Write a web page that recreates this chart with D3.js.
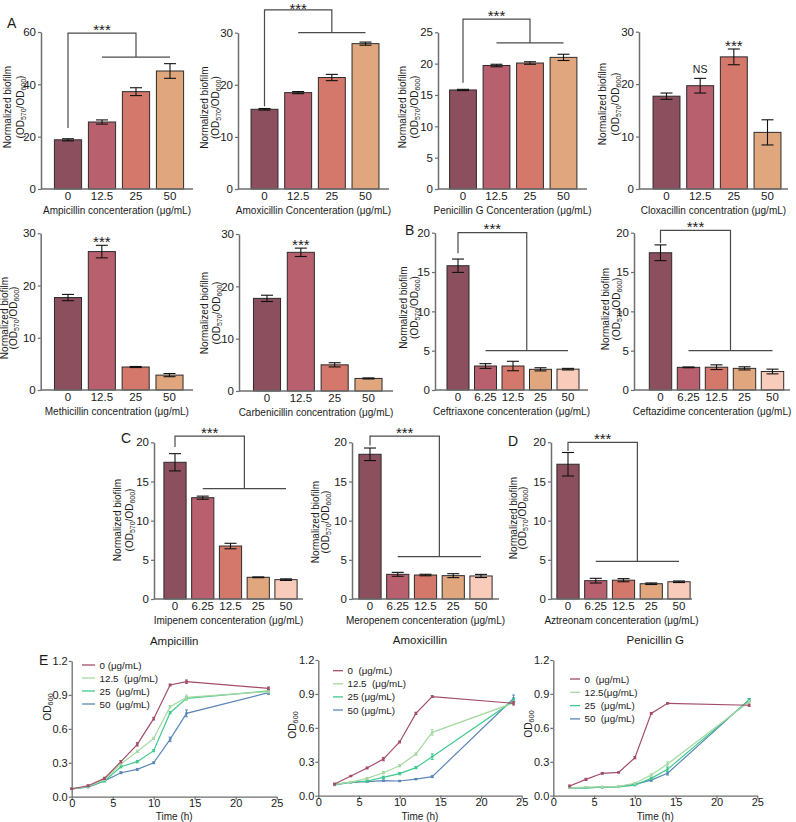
<!DOCTYPE html>
<html><head><meta charset="utf-8">
<script src="https://cdn.jsdelivr.net/npm/d3@7"></script>
<style>
body{margin:0;background:#fff;}
svg text{font-family:"Liberation Sans",Arial,Helvetica,sans-serif;fill:#1a1a1a;}
</style></head>
<body>
<script>
// ---------------- DATA ----------------
const conc4 = ["0","12.5","25","50"];
const conc5 = ["0","6.25","12.5","25","50"];

const ampMean = [18.8, 25.6, 37.2, 45.1];
const ampErr  = [0.4, 0.8, 1.5, 2.8];
const amoxMean = [15.3, 18.5, 21.4, 27.9];
const amoxErr  = [0.15, 0.2, 0.6, 0.3];
const penMean = [15.8, 19.7, 20.1, 21.0];
const penErr  = [0.1, 0.2, 0.2, 0.5];
const cloxMean = [17.7, 19.7, 25.2, 10.8];
const cloxErr  = [0.6, 1.4, 1.5, 2.4];
const methMean = [17.7, 26.5, 4.4, 2.85];
const methErr  = [0.6, 1.2, 0.1, 0.3];
const carbMean = [17.7, 26.5, 5.0, 2.4];
const carbErr  = [0.6, 0.8, 0.4, 0.1];
const ceftriMean = [15.8, 3.05, 3.05, 2.63, 2.65];
const ceftriErr  = [0.85, 0.3, 0.6, 0.2, 0.1];
const ceftazMean = [17.45, 2.88, 2.9, 2.75, 2.35];
const ceftazErr  = [1.0, 0.05, 0.3, 0.2, 0.3];
const imiMean = [17.45, 12.93, 6.76, 2.77, 2.47];
const imiErr  = [1.1, 0.2, 0.35, 0.05, 0.1];
const meroMean = [18.47, 3.15, 3.06, 2.98, 2.94];
const meroErr  = [0.8, 0.25, 0.1, 0.25, 0.2];
const aztMean = [17.2, 2.34, 2.4, 1.95, 2.2];
const aztErr  = [1.5, 0.3, 0.2, 0.1, 0.1];

const ticks60 = [0,20,40,60];
const ticks30 = [0,10,20,30];
const ticks25 = [0,5,10,15,20,25];
const ticks20 = [0,5,10,15,20];

const timeAmp  = [0,2,4,6,8,10,12,14,24];
const ampL0  = [0.07,0.097,0.162,0.31,0.463,0.69,0.988,1.017,0.958];
const ampL12 = [0.07,0.09,0.15,0.29,0.40,0.516,0.796,0.879,0.93];
const ampL25 = [0.07,0.09,0.14,0.265,0.31,0.407,0.743,0.87,0.935];
const ampL50 = [0.07,0.085,0.14,0.212,0.242,0.30,0.507,0.737,0.92];
const ampE0  = [0.005,0.008,0.01,0.01,0.015,0.012,0.008,0.015,0.012];
const ampE12 = [0.005,0.005,0.008,0.01,0.01,0.01,0.01,0.02,0.01];
const ampE25 = [0.005,0.005,0.008,0.01,0.01,0.01,0.01,0.015,0.012];
const ampE50 = [0.005,0.005,0.008,0.008,0.008,0.008,0.02,0.03,0.015];

const timeAx = [2,4,6,8,10,12,14,24];
const amoxL0  = [0.103,0.174,0.245,0.324,0.475,0.728,0.876,0.817];
const amoxL12 = [0.10,0.12,0.153,0.203,0.265,0.368,0.56,0.82];
const amoxL25 = [0.10,0.12,0.13,0.162,0.195,0.248,0.345,0.84];
const amoxL50 = [0.095,0.118,0.125,0.133,0.13,0.147,0.168,0.86];
const amoxE0  = [0.008,0.005,0.008,0.015,0.008,0.01,0.008,0.015];
const amoxE12 = [0.005,0.005,0.008,0.01,0.01,0.01,0.025,0.01];
const amoxE25 = [0.005,0.005,0.01,0.01,0.01,0.01,0.025,0.02];
const amoxE50 = [0.005,0.005,0.005,0.005,0.005,0.005,0.008,0.03];

const penL0  = [0.086,0.144,0.198,0.206,0.336,0.728,0.817,0.80];
const penL12 = [0.07,0.075,0.078,0.082,0.11,0.183,0.28,0.83];
const penL25 = [0.07,0.07,0.075,0.078,0.094,0.153,0.233,0.845];
const penL50 = [0.07,0.07,0.075,0.08,0.10,0.138,0.198,0.85];
const penE0  = [0.008,0.01,0.008,0.005,0.01,0.008,0.005,0.01];
const penE12 = [0.005,0.005,0.005,0.005,0.008,0.01,0.02,0.01];
const penE25 = [0.005,0.005,0.005,0.005,0.005,0.01,0.02,0.01];
const penE50 = [0.005,0.005,0.005,0.005,0.005,0.01,0.015,0.01];

const legAmp = ["0 (μg/mL)","12.5  (μg/mL)","25  (μg/mL)","50  (μg/mL)"];
const legAmox = ["0  (μg/mL)","12.5  (μg/mL)","25 (μg/mL)","50 (μg/mL)"];
const legPen = ["0  (μg/mL)","12.5(μg/mL)","25  (μg/mL)","50  (μg/mL)"];

// ---------------- STYLE ----------------
const barColors = ["#8c4f5e","#b9606f","#d4786b","#e0a77e","#f8cbbb"];
const lineColors = ["#a24d68","#a5d9a1","#3fc98f","#5b87b7"];
const axisColor = "#6e6e6e";

const svg = d3.select("body").append("svg").attr("width",796).attr("height",822);
svg.append("rect").attr("width",796).attr("height",822).attr("fill","#fff");

function ylabel(g, cx1, cx2, cy) {
  g.append("text").attr("transform",`translate(${cx1+3.6},${cy}) rotate(-90)`)
    .attr("text-anchor","middle").attr("font-size",10).text("Normalized biofilm");
  const t = g.append("text").attr("transform",`translate(${cx2+3.6},${cy}) rotate(-90)`)
    .attr("text-anchor","middle").attr("font-size",10);
  t.append("tspan").text("(OD");
  t.append("tspan").attr("font-size",7).attr("dy",2).text("570");
  t.append("tspan").attr("dy",-2).text("/OD");
  t.append("tspan").attr("font-size",7).attr("dy",2).text("600");
  t.append("tspan").attr("dy",-2).text(")");
}

function barPanel(o) {
  const g = svg.append("g");
  const n = o.cats.length;
  const step = (o.cLast - o.cFirst)/(n-1);
  const x = d3.scaleBand().domain(o.cats).range([o.cFirst-step/2, o.cLast+step/2]).paddingInner(0.2).paddingOuter(0.1);
  const y = d3.scaleLinear().domain([0,o.yMax]).range([o.yBot,o.yTop]);
  const data = o.cats.map((c,i)=>({c, m:o.mean[i], e:o.err[i], i}));
  g.selectAll("rect.bar").data(data).join("rect").attr("class","bar")
    .attr("x",d=>x(d.c)).attr("width",x.bandwidth())
    .attr("y",d=>y(d.m)).attr("height",d=>o.yBot-y(d.m))
    .attr("fill",d=>barColors[d.i]).attr("stroke","#2b2b2b").attr("stroke-width",1);
  const cw = 6;
  data.forEach(d=>{
    const cx = x(d.c)+x.bandwidth()/2;
    g.append("line").attr("x1",cx).attr("x2",cx).attr("y1",y(d.m-d.e)).attr("y2",y(d.m+d.e)).attr("stroke","#111").attr("stroke-width",1.1);
    [d.m-d.e,d.m+d.e].forEach(v=>g.append("line").attr("x1",cx-cw).attr("x2",cx+cw).attr("y1",y(v)).attr("y2",y(v)).attr("stroke","#111").attr("stroke-width",1.1));
  });
  const ya = g.append("g").attr("transform",`translate(${o.ax},0)`)
    .call(d3.axisLeft(y).tickValues(o.ticks).tickSize(3).tickPadding(2).tickSizeOuter(0));
  ya.select(".domain").attr("stroke",axisColor).attr("stroke-width",1.5);
  ya.selectAll(".tick line").attr("stroke",axisColor).attr("stroke-width",1.2);
  ya.selectAll(".tick text").attr("font-size",11.5).attr("fill","#1a1a1a").attr("font-family","Liberation Sans, Arial, sans-serif");
  g.append("line").attr("x1",o.ax).attr("x2",o.axEnd).attr("y1",o.yBot).attr("y2",o.yBot).attr("stroke",axisColor).attr("stroke-width",1.5);
  const xa = g.append("g").attr("transform",`translate(0,${o.yBot})`)
    .call(d3.axisBottom(x).tickSize(0).tickPadding(3));
  xa.select(".domain").remove();
  xa.selectAll(".tick text").attr("font-size",11.5).attr("fill","#1a1a1a").attr("font-family","Liberation Sans, Arial, sans-serif");
  g.append("text").attr("x",(o.ax+o.axEnd)/2).attr("y",o.yBot+24.5).attr("text-anchor","middle").attr("font-size",10).text(o.xlabel);
  ylabel(g, o.yl1, o.yl2, o.ylc);
  const sc = "#4a4a4a";
  if (o.bracket) {
    const b = o.bracket;
    const lx = x(o.cats[0])+x.bandwidth()/2;
    const h1 = x(o.cats[1])+x.bandwidth()/2;
    const h2 = x(o.cats[n-1])+x.bandwidth()/2;
    const rx = (h1+h2)/2;
    const ty = y(b.top);
    g.append("path").attr("d",`M${lx},${y(b.leftEnd)}V${ty}H${rx}V${y(b.h)}`).attr("fill","none").attr("stroke",sc).attr("stroke-width",1.2);
    g.append("line").attr("x1",h1).attr("x2",h2).attr("y1",y(b.h)).attr("y2",y(b.h)).attr("stroke",sc).attr("stroke-width",1.2);
    g.append("text").attr("x",(lx+rx)/2).attr("y",Math.max(ty-7+8.7,13.6)).attr("text-anchor","middle").attr("font-size",15).text("***");
  }
  if (o.marks) {
    o.marks.forEach(mk=>{
      const d = data[mk.i];
      const cx = x(d.c)+x.bandwidth()/2;
      const et = y(d.m+d.e);
      if (mk.t==="***") g.append("text").attr("x",cx).attr("y",et-7+8.7).attr("text-anchor","middle").attr("font-size",15).text("***");
      else g.append("text").attr("x",cx).attr("y",et-5.7).attr("text-anchor","middle").attr("font-size",10.5).text(mk.t);
    });
  }
}

function letter(t,x,y){ svg.append("text").attr("x",x).attr("y",y).attr("font-size",14).text(t); }

// Row 1
barPanel({cats:conc4, mean:ampMean, err:ampErr, cFirst:68, cLast:170, ax:41, axEnd:193, yTop:32, yBot:189, yMax:60, ticks:ticks60,
  xlabel:"Ampicillin concenteration (μg/mL)", yl1:7.2, yl2:20, ylc:107, bracket:{top:59.6,leftEnd:23.3,h:50.4}});
barPanel({cats:conc4, mean:amoxMean, err:amoxErr, cFirst:264.5, cLast:365.5, ax:238, axEnd:389, yTop:32.7, yBot:189, yMax:30, ticks:ticks30,
  xlabel:"Amoxicillin Concenteration (μg/mL)", yl1:204, yl2:215.5, ylc:107.6, bracket:{top:34.4,leftEnd:15.9,h:30}});
barPanel({cats:conc4, mean:penMean, err:penErr, cFirst:463, cLast:563.5, ax:438, axEnd:587, yTop:32.3, yBot:189, yMax:25, ticks:ticks25,
  xlabel:"Penicillin G Concenteration (μg/mL)", yl1:402.5, yl2:414.5, ylc:107, bracket:{top:27.1,leftEnd:16.96,h:23.3}});
barPanel({cats:conc4, mean:cloxMean, err:cloxErr, cFirst:666.5, cLast:767.5, ax:639, axEnd:788, yTop:31.7, yBot:189, yMax:30, ticks:ticks30,
  xlabel:"Cloxacillin concentration (μg/mL)", yl1:602.5, yl2:615.5, ylc:104, marks:[{i:1,t:"NS"},{i:2,t:"***"}]});
// Row 2
barPanel({cats:conc4, mean:methMean, err:methErr, cFirst:68, cLast:169.5, ax:40.7, axEnd:193, yTop:233.3, yBot:390, yMax:30, ticks:ticks30,
  xlabel:"Methicillin concentration (μg/mL)", yl1:4.2, yl2:13, ylc:318, marks:[{i:1,t:"***"}]});
barPanel({cats:conc4, mean:carbMean, err:carbErr, cFirst:267, cLast:368.5, ax:239, axEnd:393, yTop:234, yBot:391, yMax:30, ticks:ticks30,
  xlabel:"Carbenicillin concentration (μg/mL)", yl1:204, yl2:216, ylc:313, marks:[{i:1,t:"***"}]});
barPanel({cats:conc5, mean:ceftriMean, err:ceftriErr, cFirst:458, cLast:568, ax:435, axEnd:588, yTop:232.7, yBot:390, yMax:20, ticks:ticks20,
  xlabel:"Ceftriaxone concenteration (μg/mL)", yl1:403, yl2:414, ylc:307.5, bracket:{top:20,leftEnd:17.4,h:5.0}});
barPanel({cats:conc5, mean:ceftazMean, err:ceftazErr, cFirst:660.5, cLast:772.5, ax:634, axEnd:790, yTop:232.7, yBot:390, yMax:20, ticks:ticks20,
  xlabel:"Ceftazidime concenteration (μg/mL)", yl1:605, yl2:616, ylc:309, bracket:{top:20.3,leftEnd:18.7,h:5.0}});
// Row 3
barPanel({cats:conc5, mean:imiMean, err:imiErr, cFirst:175, cLast:286, ax:154, axEnd:303, yTop:442.3, yBot:599, yMax:20, ticks:ticks20,
  xlabel:"Imipenem concenteration (μg/mL)", yl1:117, yl2:129, ylc:520, bracket:{top:20.8,leftEnd:19.4,h:14.1}});
barPanel({cats:conc5, mean:meroMean, err:meroErr, cFirst:370, cLast:481, ax:352, axEnd:499, yTop:442.3, yBot:599, yMax:20, ticks:ticks20,
  xlabel:"Meropenem concenteration (μg/mL)", yl1:315, yl2:325, ylc:522, bracket:{top:20.8,leftEnd:19.6,h:5.4}});
barPanel({cats:conc5, mean:aztMean, err:aztErr, cFirst:568, cLast:679, ax:551, axEnd:692, yTop:442.3, yBot:599, yMax:20, ticks:ticks20,
  xlabel:"Aztreonam concenteration (μg/mL)", yl1:513, yl2:522.5, ylc:518, bracket:{top:20,leftEnd:18.9,h:4.8}});

letter("A",7,28); letter("B",405,235); letter("C",121,443); letter("D",508,446); letter("E",39,665);

// ---------------- LINE CHARTS ----------------
function lineChart(o) {
  const g = svg.append("g");
  const x = d3.scaleLinear().domain([0,25]).range([o.x0,o.x1]);
  const y = d3.scaleLinear().domain([0,1.2]).range([o.yb,o.yt]);
  const ya = g.append("g").attr("transform",`translate(${o.x0},0)`)
    .call(d3.axisLeft(y).tickValues([0,0.3,0.6,0.9,1.2]).tickFormat(d3.format(".1f")).tickSize(3).tickPadding(1).tickSizeOuter(0));
  const xa = g.append("g").attr("transform",`translate(0,${o.yb})`)
    .call(d3.axisBottom(x).tickValues([0,5,10,15,20,25]).tickSize(3).tickPadding(0).tickSizeOuter(0));
  [ya,xa].forEach(a=>{
    a.select(".domain").attr("stroke",axisColor).attr("stroke-width",1.3);
    a.selectAll(".tick line").attr("stroke",axisColor).attr("stroke-width",1.2);
    a.selectAll(".tick text").attr("font-size",11).attr("fill","#1a1a1a").attr("font-family","Liberation Sans, Arial, sans-serif");
  });
  const line = d3.line().x(d=>x(d.t)).y(d=>y(d.v));
  o.series.slice().reverse().forEach((s)=>{
    const pts = o.time.map((t,i)=>({t, v:s.v[i], e:s.e[i]}));
    g.append("path").datum(pts).attr("d",line).attr("fill","none").attr("stroke",s.c).attr("stroke-width",1.2);
    pts.forEach(p=>{
      g.append("line").attr("x1",x(p.t)).attr("x2",x(p.t)).attr("y1",y(p.v-p.e)).attr("y2",y(p.v+p.e)).attr("stroke",s.c).attr("stroke-width",1);
      [p.v-p.e,p.v+p.e].forEach(v=>g.append("line").attr("x1",x(p.t)-1.5).attr("x2",x(p.t)+1.5).attr("y1",y(v)).attr("y2",y(v)).attr("stroke",s.c).attr("stroke-width",1));
      g.append("rect").attr("x",x(p.t)-1.2).attr("y",y(p.v)-1.2).attr("width",2.4).attr("height",2.4).attr("fill",s.c);
    });
  });
  o.series.forEach((s,i)=>{
    const ly = o.ly + i*o.lstep;
    g.append("line").attr("x1",o.lx).attr("x2",o.lx+o.llen).attr("y1",ly).attr("y2",ly).attr("stroke",s.c).attr("stroke-width",1.3);
    g.append("text").attr("x",o.lx+o.llen+4.5).attr("y",ly+3.5).attr("font-size",9.8).style("white-space","pre").text(o.labels[i]);
  });
  g.append("text").attr("x",(o.x0+o.x1)/2).attr("y",o.yt-16).attr("text-anchor","middle").attr("font-size",11.5).text(o.title);
  g.append("text").attr("x",(o.x0+o.x1)/2).attr("y",819.5).attr("text-anchor","middle").attr("font-size",10).text("Time (h)");
  const t = g.append("text").attr("transform",`translate(${o.ylx+3.6},${o.ylc}) rotate(-90)`).attr("text-anchor","middle").attr("font-size",10.3);
  t.append("tspan").text("OD");
  t.append("tspan").attr("font-size",7.3).attr("dy",2).text("600");
}

lineChart({title:"Ampicillin", time:timeAmp, x0:71.7, x1:276.7, yb:796.7, yt:661, lx:82, llen:13, ly:665, lstep:13, labels:legAmp, ylx:47, ylc:707,
  series:[{v:ampL0,e:ampE0,c:lineColors[0]},{v:ampL12,e:ampE12,c:lineColors[1]},{v:ampL25,e:ampE25,c:lineColors[2]},{v:ampL50,e:ampE50,c:lineColors[3]}]});
lineChart({title:"Amoxicillin", time:timeAx, x0:318.3, x1:521.7, yb:795.7, yt:660, lx:333, llen:10, ly:670.7, lstep:13.1, labels:legAmox, ylx:292, ylc:725,
  series:[{v:amoxL0,e:amoxE0,c:lineColors[0]},{v:amoxL12,e:amoxE12,c:lineColors[1]},{v:amoxL25,e:amoxE25,c:lineColors[2]},{v:amoxL50,e:amoxE50,c:lineColors[3]}]});
lineChart({title:"Penicillin G", time:timeAx, x0:553.3, x1:757.3, yb:795.7, yt:660, lx:570, llen:10, ly:679, lstep:13.3, labels:legPen, ylx:528.5, ylc:724,
  series:[{v:penL0,e:penE0,c:lineColors[0]},{v:penL12,e:penE12,c:lineColors[1]},{v:penL25,e:penE25,c:lineColors[2]},{v:penL50,e:penE50,c:lineColors[3]}]});
</script>
</body></html>
